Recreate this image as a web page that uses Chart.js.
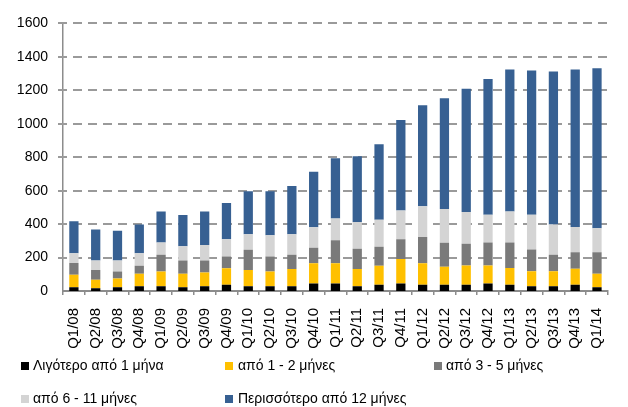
<!DOCTYPE html>
<html>
<head>
<meta charset="utf-8">
<style>
  html, body { margin: 0; padding: 0; background: #fff; }
  #wrap { width: 628px; height: 407px; }
</style>
</head>
<body>
<div id="wrap"><canvas id="myChart" width="628" height="407"></canvas></div>
<script src="https://cdn.jsdelivr.net/npm/chart.js"></script>
<script>
  let quarters = ['Q1/08','Q2/08','Q3/08','Q4/08','Q1/09','Q2/09','Q3/09','Q4/09','Q1/10','Q2/10','Q3/10','Q4/10',
    'Q1/11','Q2/11','Q3/11','Q4/11','Q1/12','Q2/12','Q3/12','Q4/12','Q1/13','Q2/13','Q3/13','Q4/13','Q1/14'];

  let under1 = [23,17,23,29,29,23,29,37,29,29,29,45,45,29,37,45,37,37,37,45,37,29,29,37,23];
  let m1to2 = [74,51,52,74,87,80,81,99,97,87,103,121,121,103,114,146,129,108,116,108,100,89,89,96,80];
  let m3to5 = [71,58,41,48,101,79,72,71,120,91,85,93,138,120,114,119,157,143,129,137,153,130,99,99,129];
  let m6to11 = [58,56,66,75,73,85,93,103,94,126,123,122,129,160,161,171,184,203,190,166,185,208,181,151,143];
  let over12 = [191,185,178,172,185,187,200,216,257,264,288,332,360,394,452,542,603,661,738,812,850,862,914,942,957];

  let seriesNames = ['Λιγότερο από 1 μήνα','από 1 - 2 μήνες','από 3 - 5 μήνες','από 6 - 11 μήνες','Περισσότερο από 12 μήνες'];
  let seriesColors = ['#000000','#ffc000','#7a7a7a','#d4d4d4','#376092'];
  let yTicks = [0,200,400,600,800,1000,1200,1400,1600];

  let FONT = 'Liberation Sans';

  // dashed horizontal grid, short segments at the y scale's tick positions
  let dashGrid = {
    id: 'dashGrid',
    beforeDatasetsDraw(chart) {
      let ctx = chart.ctx;
      let y = chart.scales.y;
      let area = chart.chartArea;
      ctx.save();
      ctx.fillStyle = '#9a9a9a';
      y.ticks.forEach(function(t) {
        if (t.value === 0) return;
        let py = Math.round(y.getPixelForValue(t.value));
        for (let x = Math.round(area.left) - 5; x < area.right; x += 15) {
          ctx.fillRect(x, py - 1, Math.min(9, area.right - x), 2);
        }
      });
      ctx.restore();
    }
  };

  // legend in columns, two rows, like the original
  let legendPlugin = {
    id: 'gridLegend',
    afterDraw(chart) {
      let ctx = chart.ctx;
      let boxX = [21, 225, 434];
      let textX = [33, 238, 446];
      let rows = [366, 399];
      ctx.save();
      ctx.font = '14px "' + FONT + '"';
      ctx.textBaseline = 'middle';
      chart.data.datasets.forEach(function(ds, i) {
        let c = i % 3;
        let y = rows[Math.floor(i / 3)];
        ctx.fillStyle = ds.backgroundColor;
        ctx.fillRect(boxX[c], y - 4, 8, 8);
        ctx.fillStyle = '#000';
        ctx.fillText(ds.label, textX[c], y);
      });
      ctx.restore();
    }
  };

  let datasets = [under1, m1to2, m3to5, m6to11, over12].map(function(vals, i) {
    return {
      label: seriesNames[i],
      data: vals,
      backgroundColor: seriesColors[i],
      borderWidth: 0,
      barPercentage: 0.85,
      categoryPercentage: 0.5
    };
  });

  let config = {
    type: 'bar',
    data: { labels: quarters, datasets: datasets },
    options: {
      responsive: false,
      animation: false,
      layout: { padding: { top: 14, right: 0, bottom: 52, left: 0 } },
      plugins: {
        legend: { display: false },
        tooltip: { enabled: false }
      },
      scales: {
        x: {
          stacked: true,
          offset: true,
          grid: { display: true, drawOnChartArea: false, drawTicks: true, tickLength: 4, color: '#8c8c8c', lineWidth: 1.5, offset: true },
          border: { display: true, color: '#8c8c8c', width: 2 },
          ticks: { color: '#000', font: { family: FONT, size: 15 }, minRotation: 90, maxRotation: 90, padding: 13, autoSkip: false },
          afterFit: function(s) { s.height = 407 - 52 - 291; }
        },
        y: {
          stacked: true,
          min: 0,
          max: 1600,
          afterBuildTicks: function(s) { s.ticks = yTicks.map(function(v) { return { value: v }; }); },
          grid: { display: false, drawTicks: false },
          border: { display: true, color: '#8c8c8c', width: 1.5 },
          ticks: { color: '#000', font: { family: FONT, size: 14 }, padding: 15, callback: function(v) { return String(v); } },
          afterFit: function(s) { s.width = 63; }
        }
      }
    },
    plugins: [dashGrid, legendPlugin]
  };

  let myChart = new Chart(document.getElementById('myChart'), config);
</script>
</body>
</html>
